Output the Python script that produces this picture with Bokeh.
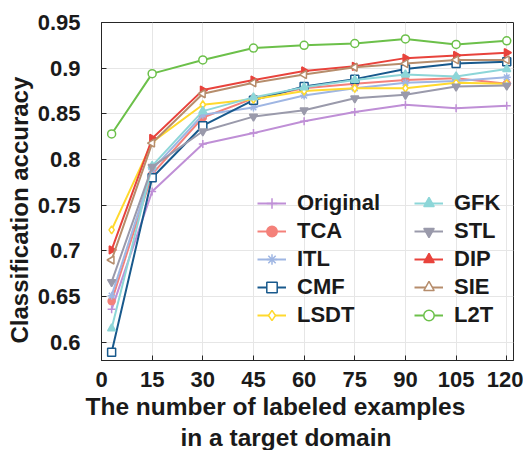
from bokeh.plotting import figure
from bokeh.models import Legend, LegendItem, FixedTicker, Title, Range1d, ColumnDataSource
from bokeh.embed import file_html
from bokeh.resources import INLINE

x_vals = [3, 15, 30, 45, 60, 75, 90, 105, 120]
x_ticks = [0, 15, 30, 45, 60, 75, 90, 105, 120]
y_ticks = [0.6, 0.65, 0.7, 0.75, 0.8, 0.85, 0.9, 0.95]
y_tick_labels = ["0.6", "0.65", "0.7", "0.75", "0.8", "0.85", "0.9", "0.95"]

original = [0.636, 0.765, 0.817, 0.829, 0.842, 0.852, 0.860, 0.856, 0.859]
tca = [0.645, 0.784, 0.846, 0.867, 0.878, 0.883, 0.887, 0.889, 0.883]
itl = [0.651, 0.789, 0.849, 0.857, 0.870, 0.878, 0.884, 0.886, 0.890]
cmf = [0.589, 0.780, 0.837, 0.865, 0.880, 0.888, 0.899, 0.905, 0.907]
lsdt = [0.723, 0.819, 0.860, 0.866, 0.875, 0.878, 0.878, 0.884, 0.883]
gfk = [0.615, 0.793, 0.853, 0.868, 0.879, 0.887, 0.893, 0.891, 0.899]
stl = [0.666, 0.792, 0.831, 0.847, 0.854, 0.867, 0.871, 0.880, 0.881]
dip = [0.701, 0.823, 0.876, 0.887, 0.897, 0.902, 0.911, 0.914, 0.917]
sie = [0.690, 0.818, 0.872, 0.884, 0.893, 0.901, 0.905, 0.909, 0.909]
l2t = [0.828, 0.894, 0.909, 0.922, 0.925, 0.927, 0.932, 0.926, 0.930]

series = [
    ("Original", original, "#bf8fd6", "cross", False),
    ("TCA", tca, "#f4817a", "dot", True),
    ("ITL", itl, "#9fb6e3", "asterisk", False),
    ("CMF", cmf, "#18598c", "square", False),
    ("LSDT", lsdt, "#ffd92e", "diamond", False),
    ("GFK", gfk, "#8dd6d8", "triangle", True),
    ("STL", stl, "#9a9aab", "inverted_triangle", True),
    ("DIP", dip, "#e8433c", "triangle", True),
    ("SIE", sie, "#b68d6c", "triangle", False),
    ("L2T", l2t, "#6cc04a", "circle", False),
]
angles = {"DIP": -1.5708, "SIE": 1.5708}

FONT = "Liberation Sans"
INK = "#1a1a1a"

p = figure(width=523, height=450, output_backend="svg", toolbar_location=None,
           x_range=Range1d(0, 122), y_range=Range1d(0.58, 0.95),
           min_border_left=101, min_border_right=10, min_border_top=22, min_border_bottom=90)
p.background_fill_color = "white"
p.border_fill_color = "white"
p.outline_line_color = "#262626"
p.outline_line_width = 1

for ax in [p.xaxis[0], p.yaxis[0]]:
    ax.major_label_text_font = FONT
    ax.major_label_text_font_style = "bold"
    ax.major_label_text_font_size = "22px"
    ax.major_label_text_color = INK
    ax.major_tick_in = 5
    ax.major_tick_out = 0
    ax.minor_tick_in = 0
    ax.minor_tick_out = 0
    ax.axis_line_color = "#262626"
    ax.major_tick_line_color = "#262626"

p.xaxis.ticker = FixedTicker(ticks=x_ticks)
p.yaxis.ticker = FixedTicker(ticks=y_ticks)
p.yaxis.major_label_overrides = {t: l for t, l in zip(y_ticks, y_tick_labels)}
p.xaxis.major_label_standoff = 11
p.yaxis.major_label_standoff = 21

p.grid.grid_line_color = "#e6e6e6"
p.grid.grid_line_width = 1
p.xgrid.ticker = FixedTicker(ticks=x_ticks)
p.ygrid.ticker = FixedTicker(ticks=y_ticks)

ylab = Title(text="Classification accuracy", align="left", offset=17,
             text_font=FONT, text_font_style="bold", text_font_size="24px", text_color=INK,
             standoff=3)
p.add_layout(ylab, "left")

t1 = Title(text="The number of labeled examples", align="left", offset=-16,
           text_font=FONT, text_font_style="bold", text_font_size="24.5px", text_color=INK,
           standoff=3)
t2 = Title(text="in a target domain", align="left", offset=79,
           text_font=FONT, text_font_style="bold", text_font_size="24.5px", text_color=INK,
           standoff=0)
p.add_layout(t1, "below")
p.add_layout(t2, "below")

items = {}
for name, ys, color, marker, filled in series:
    src = ColumnDataSource(dict(x=x_vals, y=ys, a=[angles.get(name, 0.0)] * len(x_vals)))
    r1 = p.line("x", "y", source=src, line_color=color, line_width=2)
    size = 8
    if marker == "dot":
        size = 7
        marker = "circle"
    r2 = p.scatter("x", "y", source=src, marker=marker, size=size, angle="a",
                   line_color=color, line_width=1.5,
                   fill_color=color if filled else "white")
    items[name] = [r1, r2]

names1 = ["Original", "TCA", "ITL", "CMF", "LSDT"]
names2 = ["GFK", "STL", "DIP", "SIE", "L2T"]

def make_legend(names, loc, lw):
    return Legend(items=[LegendItem(label=n, renderers=items[n]) for n in names],
                  location=loc, glyph_width=29, glyph_height=26, label_height=26,
                  label_standoff=11, spacing=2, padding=3, margin=0, label_width=lw,
                  label_text_font=FONT, label_text_font_style="bold",
                  label_text_font_size="22px", label_text_color=INK,
                  border_line_color=None, background_fill_alpha=0)

p.add_layout(make_legend(names1, (156, 32), 111), "center")
p.add_layout(make_legend(names2, (313, 32), 40), "center")

open("out.html", "w").write(file_html(p, INLINE))
